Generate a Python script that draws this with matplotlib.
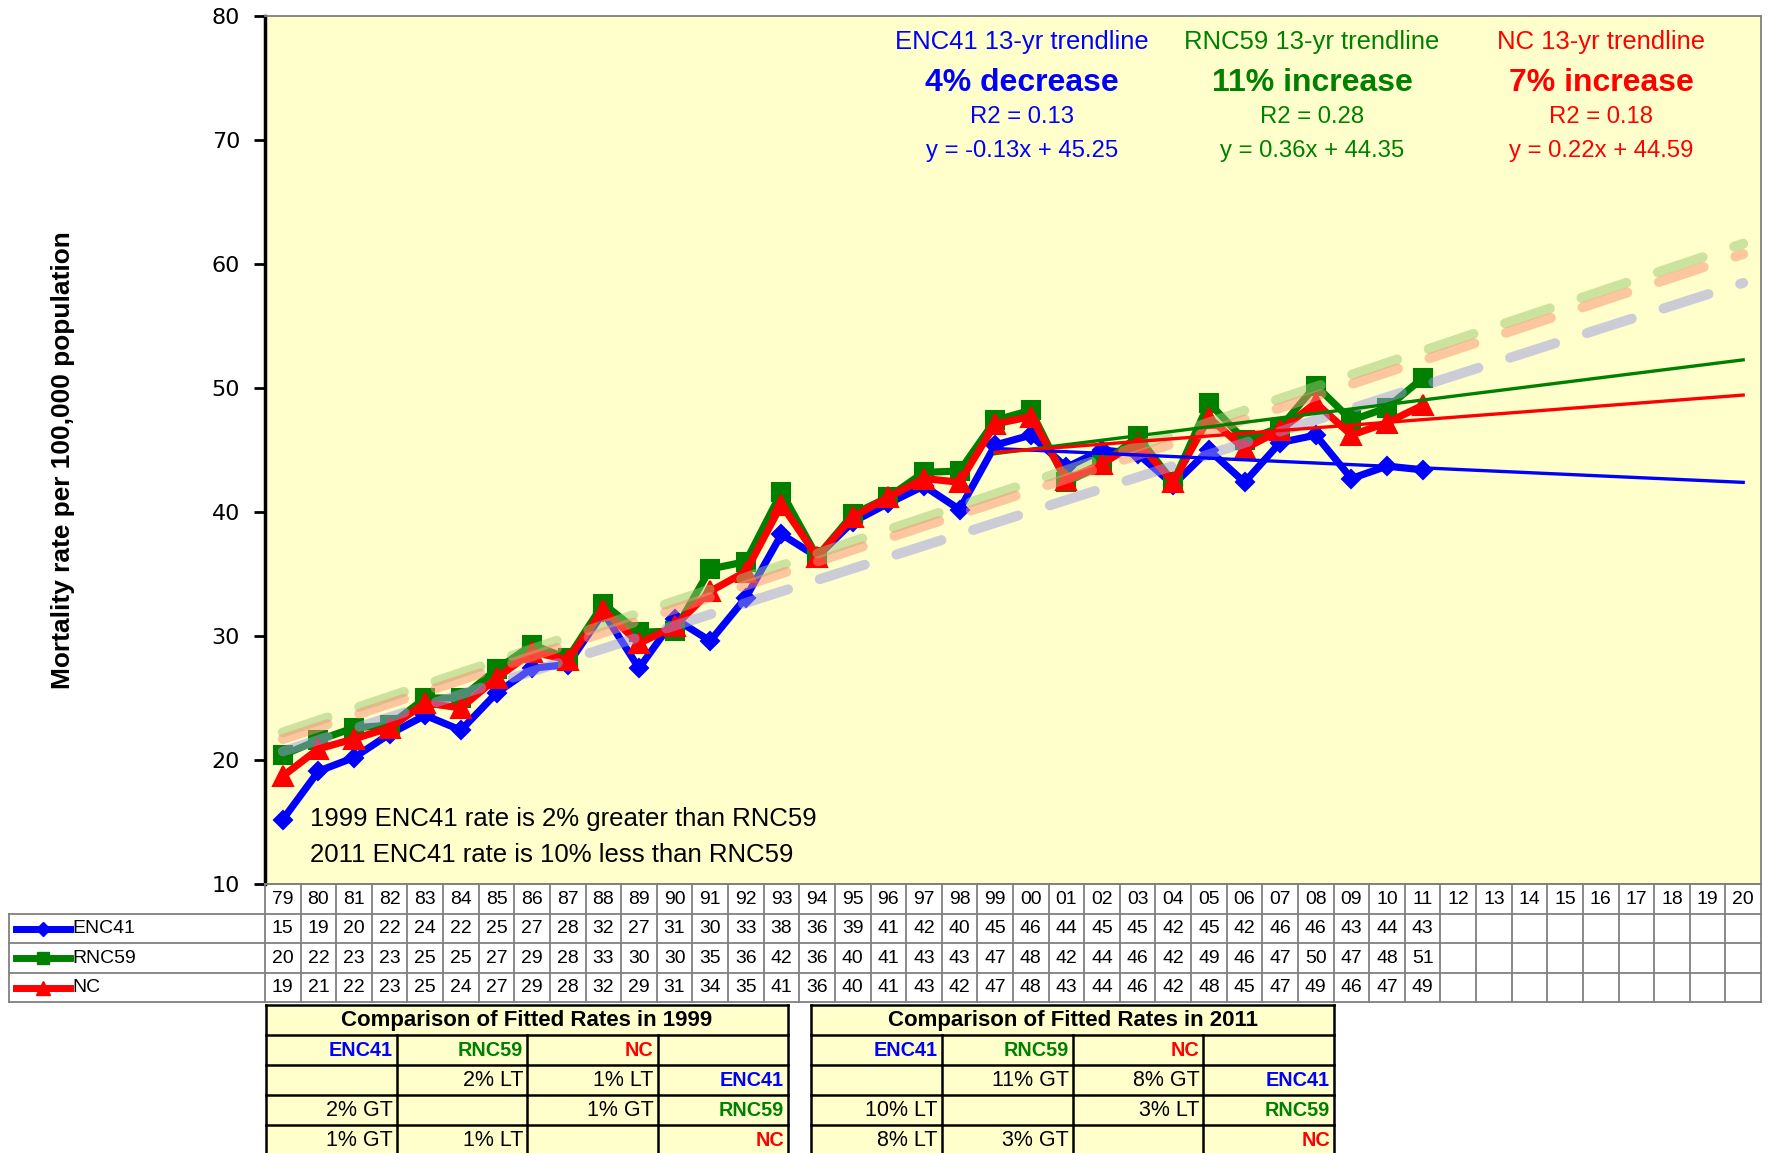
import numpy as np
import matplotlib
matplotlib.use('Agg')
import matplotlib.pyplot as plt
from matplotlib import font_manager as fm
from matplotlib.patches import Rectangle

# ---------------- data ----------------
years = ['79', '80', '81', '82', '83', '84', '85', '86', '87', '88', '89', '90', '91', '92',
         '93', '94', '95', '96', '97', '98', '99', '00', '01', '02', '03', '04', '05', '06',
         '07', '08', '09', '10', '11', '12', '13', '14', '15', '16', '17', '18', '19', '20']

enc41 = [15.2, 19.1, 20.2, 22.1, 23.6, 22.4, 25.4, 27.4, 27.7, 31.9, 27.4, 31.4, 29.6, 33.1,
         38.2, 36.4, 39.2, 40.7, 42.1, 40.2, 45.4, 46.2, 43.6, 45.0, 44.7, 42.2, 45.0, 42.4,
         45.6, 46.2, 42.7, 43.7, 43.4]
rnc59 = [20.4, 21.6, 22.6, 22.8, 25.0, 25.0, 27.3, 29.3, 28.2, 32.6, 30.3, 30.4, 35.4, 36.0,
         41.6, 36.4, 39.8, 41.2, 43.2, 43.3, 47.4, 48.2, 42.4, 43.8, 46.1, 42.4, 48.8, 45.8,
         46.8, 50.2, 47.4, 48.4, 50.8]
nc = [18.7, 20.9, 21.7, 22.6, 24.6, 24.2, 26.6, 28.7, 28.1, 32.1, 29.4, 30.8, 33.6, 35.2,
      40.6, 36.4, 39.6, 41.2, 42.7, 42.4, 47.1, 47.7, 42.6, 43.9, 45.6, 42.4, 47.6, 45.1,
      46.6, 48.8, 46.2, 47.2, 48.6]

series_names = ['ENC41', 'RNC59', 'NC']

# 13-yr trendlines (from the chart's equations, x = 1 at 1999)
trend_start = '99'
trend_slopes = [-0.13, 0.36, 0.22]
trend_intercepts = [45.25, 44.35, 44.59]
trend_r2 = ['0.13', '0.28', '0.18']
trend_change = ['4% decrease', '11% increase', '7% increase']

note_lines = ['1999 ENC41 rate is 2% greater than RNC59',
              '2011 ENC41 rate is 10% less than RNC59']

cmp_titles = ['Comparison of Fitted Rates in 1999', 'Comparison of Fitted Rates in 2011']
cmp1999 = [['', '2% LT', '1% LT'],
           ['2% GT', '', '1% GT'],
           ['1% GT', '1% LT', '']]
cmp2011 = [['', '11% GT', '8% GT'],
           ['10% LT', '', '3% LT'],
           ['8% LT', '3% GT', '']]

# ---------------- style ----------------
plt.rcParams['lines.scale_dashes'] = False
avail = {f.name for f in fm.fontManager.ttflist}
SANS = 'Liberation Sans'
NARROW = 'Liberation Sans Narrow' if 'Liberation Sans Narrow' in avail else 'Liberation Sans'
nscale = 1.0 if NARROW == 'Liberation Sans Narrow' else 0.82

colors = ['#0000FF', '#008000', '#FF0000']
markers = ['D', 's', '^']
msizes = [9.5, 13, 15]
dash_colors = ['#9b9be2', '#9bc974', '#fb9174']
BG = '#FFFFCC'

W, H = 1769, 1153
fig = plt.figure(figsize=(W / 100, H / 100), dpi=100)
fig.patch.set_facecolor('white')

L, R, T, B = 265, 1761, 16, 884
ax = fig.add_axes([L / W, 1 - B / H, (R - L) / W, (B - T) / H])
ax.set_facecolor(BG)
n = len(years)
x = np.arange(n)
m = len(enc41)
ax.set_xlim(-0.5, n - 0.5)
ax.set_ylim(10, 80)
ax.set_yticks(range(10, 81, 10))
ax.set_xticks([])
ax.tick_params(axis='y', direction='out', length=8, width=2, pad=10, labelsize=16)
for lab in ax.get_yticklabels():
    lab.set_fontfamily('DejaVu Sans')
ax.spines['left'].set_linewidth(2.5)
ax.spines['left'].set_color('black')
for s in ['top', 'right', 'bottom']:
    ax.spines[s].set_color('#808080')
    ax.spines[s].set_linewidth(1.3)

all_series = [enc41, rnc59, nc]
for vals, col, mk, ms in zip(all_series, colors, markers, msizes):
    ax.plot(x[:m], vals, color=col, lw=5.2, marker=mk, ms=ms, mec=col, mfc=col,
            mew=1.5, zorder=3, solid_joinstyle='miter')

# long-term (full period) linear trendlines, dashed & faded
for vals, col in zip(all_series, dash_colors):
    k, b = np.polyfit(x[:m], vals, 1)
    ln, = ax.plot(x, k * x + b, color=col, lw=7.2, alpha=0.5,
                  dash_capstyle='round', zorder=5)
    ln.set_dashes([34, 24])

# 13-yr trendlines
i0 = years.index(trend_start)
xt = x[i0:]
for k, b, col in zip(trend_slopes, trend_intercepts, colors):
    ax.plot(xt, k * (xt - i0 + 1) + b, color=col, lw=2.4, zorder=6)

# trend annotations
centers = [1022, 1312, 1601]
for cx, name, col, chg, r2, k, b in zip(centers, series_names, colors, trend_change,
                                        trend_r2, trend_slopes, trend_intercepts):
    fig.text(cx / W, 1 - 42 / H, f'{name} 13-yr trendline', color=col, ha='center',
             va='center', family=NARROW, fontsize=22.5 * nscale)
    fig.text(cx / W, 1 - 83 / H, chg, color=col, ha='center', va='center',
             family=SANS, fontweight='bold', fontsize=23)
    fig.text(cx / W, 1 - 117 / H, f'R2 = {r2}', color=col, ha='center', va='center',
             family=NARROW, fontsize=21 * nscale)
    fig.text(cx / W, 1 - 151 / H, f'y = {k:.2f}x + {b:.2f}', color=col, ha='center',
             va='center', family=NARROW, fontsize=21 * nscale)

for i, line in enumerate(note_lines):
    fig.text(310 / W, 1 - (819 + 36 * i) / H, line, ha='left', va='center',
             family=SANS, fontsize=18.5, color='black')

fig.text(63 / W, 1 - 460 / H, 'Mortality rate per 100,000 population', rotation=90,
         ha='center', va='center', family=NARROW, fontweight='bold',
         fontsize=23 * nscale)

# ---------------- data table ----------------
TL = 9
TB = 1002
catw = (R - L) / n
tax = fig.add_axes([TL / W, 1 - TB / H, (R - TL) / W, (TB - B) / H])
xl = -0.5 - (L - TL) / catw
tax.set_xlim(xl, n - 0.5)
tax.set_ylim(4, 0)
tax.axis('off')
gcol = '#808080'
for i in range(n + 1):
    tax.plot([i - 0.5, i - 0.5], [0, 4], color=gcol, lw=1.3, clip_on=False)
tax.plot([xl, xl], [1, 4], color=gcol, lw=1.3, clip_on=False)
tax.plot([-0.5, n - 0.5], [0, 0], color=gcol, lw=1.3, clip_on=False)
for r in range(1, 5):
    tax.plot([xl, n - 0.5], [r, r], color=gcol, lw=1.3, clip_on=False)
for i, yr in enumerate(years):
    tax.text(i, 0.52, yr, ha='center', va='center', family=NARROW, fontsize=17 * nscale)


def px2x(px):
    return -0.5 + (px - L) / catw


for r, (vals, name, col, mk, ms) in enumerate(zip(all_series, series_names, colors,
                                                   markers, msizes)):
    yy = r + 1.52
    tax.plot([px2x(16), px2x(70)], [yy, yy], color=col, lw=5, clip_on=False)
    tax.plot([px2x(43)], [yy], marker=mk, ms=ms * 0.7, color=col, clip_on=False)
    tax.text(px2x(72), yy, name, ha='left', va='center', family=NARROW,
             fontsize=17 * nscale)
    for i, v in enumerate(vals):
        tax.text(i, yy, f'{v:.0f}', ha='center', va='center', family=NARROW,
                 fontsize=17 * nscale)


# ---------------- comparison tables ----------------
def cmp_table(x0, x1, title, rows):
    y0, y1 = 1005, 1155
    cax = fig.add_axes([x0 / W, 1 - y1 / H, (x1 - x0) / W, (y1 - y0) / H])
    cax.set_xlim(0, 4)
    cax.set_ylim(5, 0)
    cax.axis('off')
    cax.add_patch(Rectangle((0, 0), 4, 5, facecolor=BG, edgecolor='none', clip_on=False))
    for r in range(0, 6):
        cax.plot([0, 4], [r, r], color='black', lw=1.8, clip_on=False)
    for c in range(0, 5):
        yb = 0 if c in (0, 4) else 1
        cax.plot([c, c], [yb, 5], color='black', lw=1.8, clip_on=False)
    cax.text(2, 0.52, title, ha='center', va='center', family=SANS, fontweight='bold',
             fontsize=16)
    pad = 0.03
    for c, (name, col) in enumerate(zip(series_names, colors)):
        cax.text(c + 1 - pad, 1.52, name, ha='right', va='center', color=col,
                 family=NARROW, fontweight='bold', fontsize=17.5 * nscale)
    for r, row in enumerate(rows):
        for c, val in enumerate(row):
            if val:
                cax.text(c + 1 - pad, r + 2.52, val, ha='right', va='center',
                         family=SANS, fontsize=15.5)
        cax.text(4 - pad, r + 2.52, series_names[r], ha='right', va='center',
                 color=colors[r], family=NARROW, fontweight='bold', fontsize=17.5 * nscale)


cmp_table(266, 788, cmp_titles[0], cmp1999)
cmp_table(811, 1334, cmp_titles[1], cmp2011)

fig.savefig('out.png', dpi=100, facecolor='white')
